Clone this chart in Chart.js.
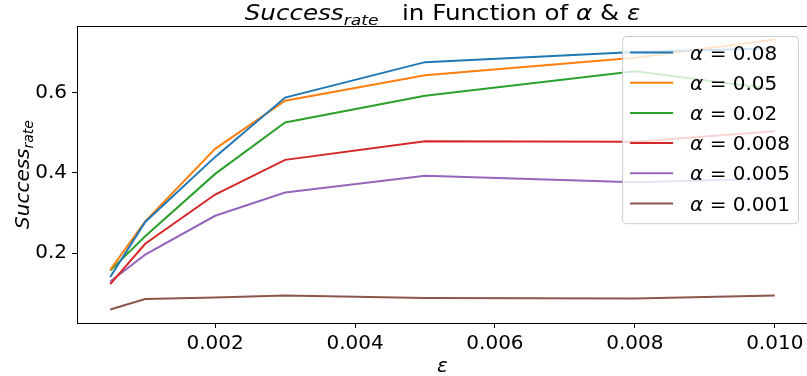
<!DOCTYPE html>
<html>
<head>
<meta charset="utf-8">
<script src="https://cdn.jsdelivr.net/npm/chart.js@4/dist/chart.umd.min.js"></script>
<style>
  html, body { margin: 0; padding: 0; background: #fff; overflow: hidden; }
  #wrap { position: relative; width: 812px; height: 376px; }
</style>
</head>
<body>
<div id="wrap"><canvas id="c"></canvas></div>
<script>
// ε values on the x axis
const epsilon = [0.0005, 0.001, 0.002, 0.003, 0.005, 0.008, 0.01];

// success rate per learning rate α
const alphaLabels = ['0.08', '0.05', '0.02', '0.008', '0.005', '0.001'];
const rateAlpha008  = [0.140, 0.2775, 0.440, 0.588, 0.6765, 0.7015, 0.711];
const rateAlpha005  = [0.158, 0.279, 0.460, 0.580, 0.644, 0.6875, 0.733];
const rateAlpha002  = [0.156, 0.242, 0.3975, 0.526, 0.5925, 0.654, 0.609];
const rateAlpha0008 = [0.1225, 0.223, 0.346, 0.4325, 0.479, 0.4775, 0.504];
const rateAlpha0005 = [0.129, 0.196, 0.293, 0.351, 0.393, 0.3765, 0.386];
const rateAlpha0001 = [0.059, 0.085, 0.089, 0.094, 0.088, 0.0866, 0.094];

const xTickValues = [0.002, 0.004, 0.006, 0.008, 0.010];
const yTickValues = [0.2, 0.4, 0.6];

const seriesValues = [rateAlpha008, rateAlpha005, rateAlpha002, rateAlpha0008, rateAlpha0005, rateAlpha0001];
const seriesColors = ['#1f77b4', '#ff7f0e', '#2ca02c', '#d62728', '#9467bd', '#8c564b'];

const FONT = "'DejaVu Sans', sans-serif";

// axis limits with a 5% margin around the data range
function padRange(lo, hi) { const m = (hi - lo) * 0.05; return [lo - m, hi + m]; }
const allRates = seriesValues.flat();
const [xMin, xMax] = padRange(Math.min(...epsilon), Math.max(...epsilon));
const [yMin, yMax] = padRange(Math.min(...allRates), Math.max(...allRates));

const datasets = seriesValues.map((vals, i) => ({
  label: alphaLabels[i],
  data: epsilon.map((x, j) => ({ x: x, y: vals[j] })),
  borderColor: seriesColors[i],
  backgroundColor: seriesColors[i],
  borderWidth: 2,
  pointRadius: 0,
  tension: 0,
  fill: false
}));

// draws a run of text pieces (italic / subscript) starting at x
function drawRuns(ctx, runs, x, y, size) {
  runs.forEach(r => {
    const s = r.sub ? size * 0.7 : size;
    ctx.font = (r.italic ? 'italic ' : '') + s + 'px ' + FONT;
    ctx.fillText(r.t, x, y + (r.sub ? size * 0.22 : 0));
    x += ctx.measureText(r.t).width;
  });
}
function runsWidth(ctx, runs, size) {
  let w = 0;
  runs.forEach(r => {
    const s = r.sub ? size * 0.7 : size;
    ctx.font = (r.italic ? 'italic ' : '') + s + 'px ' + FONT;
    w += ctx.measureText(r.t).width;
  });
  return w;
}

const decorations = {
  id: 'decorations',
  afterDatasetsDraw(chart) {
    const ctx = chart.ctx;
    const a = chart.chartArea;
    ctx.save();

    // axes frame
    ctx.strokeStyle = '#000';
    ctx.lineWidth = 1;
    ctx.strokeRect(Math.round(a.left) + 0.5, Math.round(a.top) + 0.5,
                   Math.round(a.right - a.left), Math.round(a.bottom - a.top));

    // legend in the upper right corner
    ctx.font = '20px ' + FONT;
    const entries = chart.data.datasets.map(d => d.label);
    const runsFor = lbl => [{ t: 'α', italic: true }, { t: ' = ' + lbl }];
    let maxW = 0;
    entries.forEach(l => { maxW = Math.max(maxW, runsWidth(ctx, runsFor(l), 20)); });
    const rowH = 30.2;
    const boxW = 68 + maxW + 8;
    const boxH = entries.length * rowH + 6;
    const bx = a.right - 10 - boxW;
    const by = a.top + 10;
    ctx.beginPath();
    ctx.roundRect(bx + 0.5, by + 0.5, boxW, boxH, 4);
    ctx.fillStyle = 'rgba(255,255,255,0.8)';
    ctx.fill();
    ctx.strokeStyle = '#cccccc';
    ctx.stroke();
    ctx.textBaseline = 'alphabetic';
    ctx.textAlign = 'left';
    chart.data.datasets.forEach((d, i) => {
      const cy = by + 16.5 + i * rowH;
      ctx.strokeStyle = d.borderColor;
      ctx.lineWidth = 2;
      ctx.beginPath();
      ctx.moveTo(bx + 8, cy);
      ctx.lineTo(bx + 51, cy);
      ctx.stroke();
      ctx.fillStyle = '#000';
      drawRuns(ctx, runsFor(d.label), bx + 68, cy + 7, 20);
    });

    // chart title, set slightly wide
    ctx.fillStyle = '#000';
    const titleRuns = [
      { t: 'Success', italic: true }, { t: 'rate', italic: true, sub: true },
      { t: '   in Function of ' }, { t: 'α', italic: true }, { t: ' & ' }, { t: 'ε', italic: true }
    ];
    const cx = (a.left + a.right) / 2;
    const tw = runsWidth(ctx, titleRuns, 21);
    ctx.save();
    ctx.translate(cx, 0);
    ctx.scale(1.17, 1);
    drawRuns(ctx, titleRuns, -tw / 2, 20, 21);
    ctx.restore();

    // x axis title
    const xRuns = [{ t: 'ε', italic: true }];
    const xw = runsWidth(ctx, xRuns, 20);
    drawRuns(ctx, xRuns, cx - xw / 2, 372, 20);

    // y axis title, rotated
    const yRuns = [{ t: 'Success', italic: true }, { t: 'rate', italic: true, sub: true }];
    const yw = runsWidth(ctx, yRuns, 20);
    ctx.translate(29, (a.top + a.bottom) / 2);
    ctx.rotate(-Math.PI / 2);
    drawRuns(ctx, yRuns, -yw / 2, 0, 20);

    ctx.restore();
  }
};

new Chart(document.getElementById('c'), {
  type: 'line',
  data: { datasets: datasets },
  plugins: [decorations],
  options: {
    responsive: true,
    maintainAspectRatio: false,
    animation: false,
    events: [],
    layout: { padding: { left: 0, top: 26, right: 4, bottom: 0 } },
    plugins: { legend: { display: false }, tooltip: { enabled: false }, title: { display: false } },
    scales: {
      x: {
        type: 'linear',
        min: xMin,
        max: xMax,
        afterBuildTicks: s => { s.ticks = xTickValues.map(v => ({ value: v })); },
        afterFit: s => { s.height = 53; },
        ticks: {
          callback: v => v.toFixed(3),
          font: { family: FONT, size: 20 },
          color: '#000',
          maxRotation: 0,
          autoSkip: false,
          padding: 4
        },
        grid: { drawOnChartArea: false, tickLength: 5, color: '#000' },
        border: { display: false }
      },
      y: {
        type: 'linear',
        min: yMin,
        max: yMax,
        afterBuildTicks: s => { s.ticks = yTickValues.map(v => ({ value: v })); },
        afterFit: s => { s.width = 77; },
        ticks: {
          callback: v => v.toFixed(1),
          font: { family: FONT, size: 20 },
          color: '#000',
          autoSkip: false,
          padding: 5
        },
        grid: { drawOnChartArea: false, tickLength: 5, color: '#000' },
        border: { display: false }
      }
    }
  }
});
</script>
</body>
</html>
